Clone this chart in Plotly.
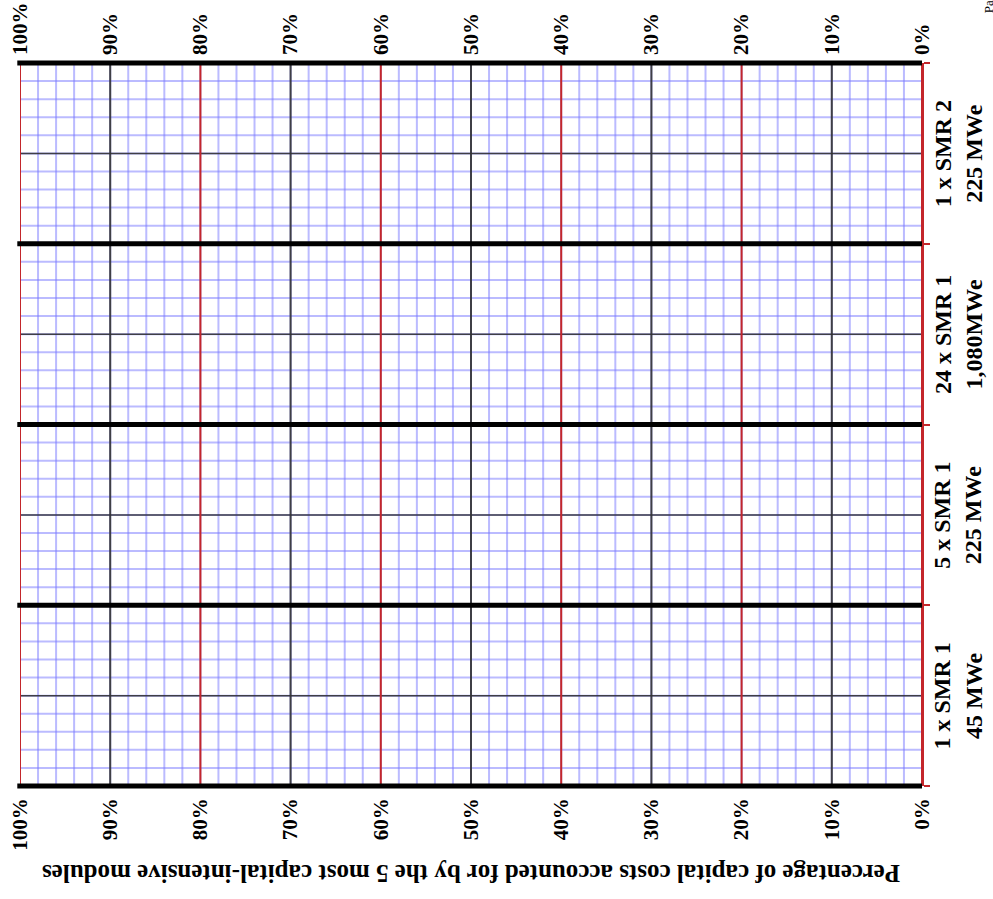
import plotly.graph_objects as go

# Percentage scale (reversed: 100% on the left, 0% on the right)
pct_ticks = [100, 90, 80, 70, 60, 50, 40, 30, 20, 10, 0]
pct_labels = [f"{v}%" for v in pct_ticks]

# Plant configurations, bottom to top
configs = ["1 x SMR 1", "5 x SMR 1", "24 x SMR 1", "1 x SMR 2"]
capacities = ["45 MWe", "225 MWe", "1,080MWe", "225 MWe"]

title_text = "Percentage of capital costs accounted for by the 5 most capital-intensive modules"

n_cat = len(configs)
minor_pct = 2        # fine grid spacing, percent
minor_cat = 0.1      # fine grid spacing, fraction of a configuration band

BLUE = "rgba(120,120,255,0.5)"
GRAY = "rgba(50,50,50,0.9)"
RED = "#c3262b"
BLACK = "#000000"
FONT = "Liberation Serif"

fig = go.Figure()
fig.add_trace(go.Scatter(x=[None], y=[None], xaxis="x", yaxis="y",
                         showlegend=False, hoverinfo="skip"))
fig.add_trace(go.Scatter(x=[None], y=[None], xaxis="x2", yaxis="y",
                         showlegend=False, hoverinfo="skip"))

shapes = []
# fine blue grid
for i in range(0, 100 // minor_pct + 1):
    v = i * minor_pct
    shapes.append(dict(type="line", xref="x", yref="paper", x0=v, x1=v, y0=0, y1=1,
                       line=dict(color=BLUE, width=2)))
for i in range(0, int(round(n_cat / minor_cat)) + 1):
    v = i * minor_cat
    shapes.append(dict(type="line", xref="paper", yref="y", x0=0, x1=1, y0=v, y1=v,
                       line=dict(color=BLUE, width=2)))
# band centre lines
for k in range(n_cat):
    shapes.append(dict(type="line", xref="paper", yref="y", x0=0, x1=1, y0=k + 0.5, y1=k + 0.5,
                       line=dict(color=GRAY, width=1.5)))
# major percentage lines: gray on odd tens, red on even tens
for v in pct_ticks:
    col = RED if v % 20 == 0 else GRAY
    shapes.append(dict(type="line", xref="x", yref="paper", x0=v, x1=v, y0=0, y1=1,
                       line=dict(color=col, width=2)))
# heavy band boundaries (paper-referenced so the outer ones are not clipped)
for k in range(n_cat + 1):
    yp = k / n_cat
    shapes.append(dict(type="line", xref="paper", yref="paper", x0=-0.003, x1=1, y0=yp, y1=yp,
                       line=dict(color=BLACK, width=5)))

annotations = []
for k, (c, cap) in enumerate(zip(configs, capacities)):
    annotations.append(dict(xref="paper", yref="y", x=1.0399, y=k + 0.5,
                            text=f"{c}<br>{cap}", textangle=-90, showarrow=False,
                            xanchor="center", yanchor="middle",
                            font=dict(family=FONT, size=24, color="black", weight="bold")))
annotations.append(dict(xref="paper", yref="paper", x=0.5, y=-0.12, text=title_text,
                        textangle=180, showarrow=False, xanchor="center", yanchor="middle",
                        font=dict(family=FONT, size=25, color="black", weight="bold")))
annotations.append(dict(xref="paper", yref="paper", x=1.073, y=1.066, text="Page",
                        textangle=-90, showarrow=False, xanchor="center", yanchor="bottom",
                        font=dict(family=FONT, size=13, color="black")))

tick_font = dict(family=FONT, size=21, color="black", weight="bold")
xcommon = dict(range=[100, 0], tickmode="array", tickvals=pct_ticks, ticktext=pct_labels,
               tickangle=-90, tickfont=tick_font, showgrid=False, zeroline=False,
               showline=False, ticks="", ticklabelstandoff=7, automargin=False)

fig.update_layout(
    width=993, height=899,
    margin=dict(l=20, r=71, t=63, b=113),
    paper_bgcolor="white", plot_bgcolor="white",
    xaxis=dict(**xcommon, side="bottom"),
    xaxis2=dict(**xcommon, side="top", overlaying="x", anchor="y"),
    yaxis=dict(range=[0, n_cat], side="right", showline=True, linecolor=RED, linewidth=2,
               ticks="outside", tickvals=list(range(n_cat + 1)), tickcolor=RED, ticklen=6,
               tickwidth=2, showticklabels=False, showgrid=False, zeroline=False,
               automargin=False),
    shapes=shapes,
    annotations=annotations,
    showlegend=False,
)

fig.write_html("out.html")
